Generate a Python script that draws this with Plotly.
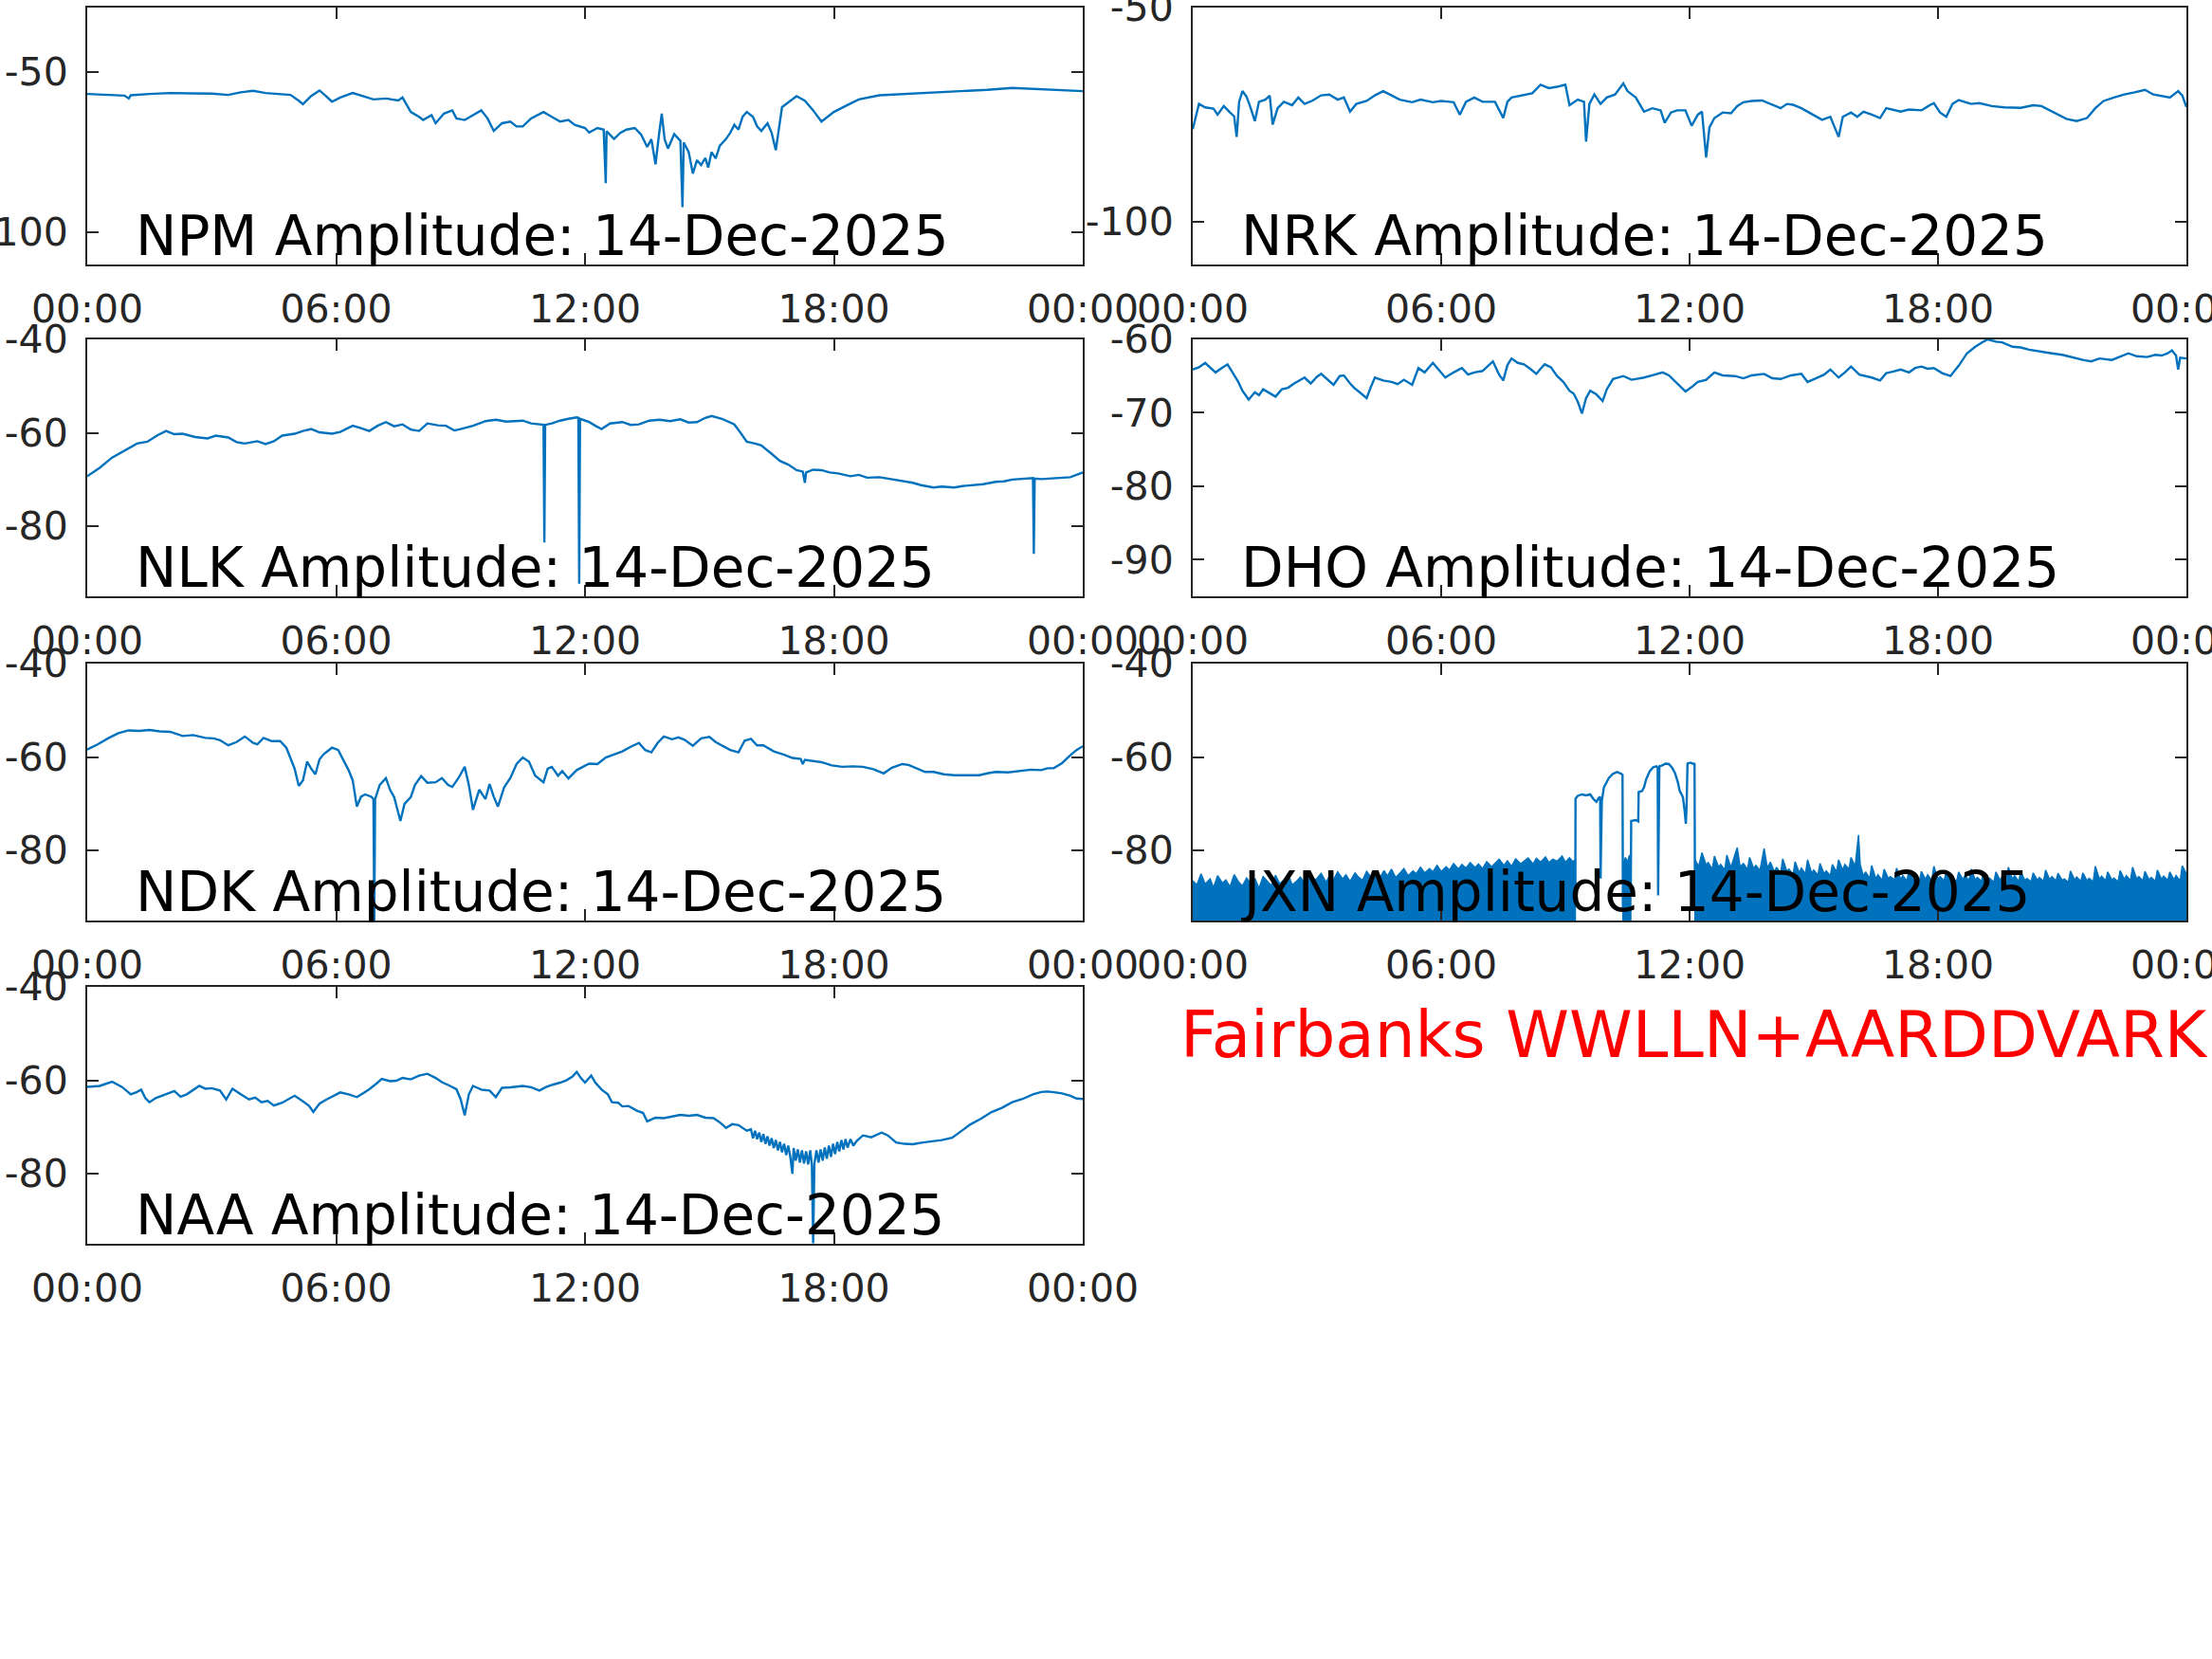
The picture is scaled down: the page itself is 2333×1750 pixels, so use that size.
import plotly.graph_objects as go
from plotly.subplots import make_subplots

# ---- data (hours since 00:00 UT, amplitude in dB) ----
npm_hours = [0.0, 0.5, 0.9, 1.0, 1.05, 1.5, 2.0, 2.5, 3.0, 3.4, 3.7, 4.0, 4.3, 4.6, 4.9, 5.1, 5.2, 5.4, 5.6, 5.75,
             5.9, 6.1, 6.4, 6.7, 6.9, 7.2, 7.5, 7.6, 7.8, 8.0, 8.1, 8.3, 8.4, 8.6, 8.8, 8.9, 9.1, 9.3, 9.5, 9.65,
             9.8, 10.0, 10.2, 10.35, 10.5, 10.7, 11.0, 11.2, 11.4, 11.6, 11.75, 12.0, 12.1, 12.3, 12.45, 12.5, 12.52,
             12.7, 12.85, 13.0, 13.2, 13.35, 13.5, 13.6, 13.7, 13.78, 13.85, 13.92, 14.0, 14.15, 14.3, 14.35, 14.38,
             14.5, 14.6, 14.7, 14.8, 14.9, 14.97, 15.05, 15.15, 15.25, 15.4, 15.5, 15.6, 15.7, 15.8, 15.9, 16.05,
             16.15, 16.25, 16.4, 16.5, 16.6, 16.75, 16.9, 17.1, 17.3, 17.5, 17.7, 17.85, 18.0, 18.3, 18.6, 19.1,
             19.6, 20.1, 20.6, 21.1, 21.7, 22.3, 22.8, 23.2, 23.6, 24.0]
npm_db = [-56.9, -57.2, -57.4, -58.3, -57.3, -56.9, -56.6, -56.7, -56.8, -57.2, -56.4, -55.9, -56.6, -56.9, -57.2,
          -59.0, -60.1, -57.5, -55.8, -57.5, -59.3, -58.0, -56.6, -57.8, -58.6, -58.3, -58.9, -58.0, -62.5, -64.0,
          -65.0, -63.5, -66.0, -63.0, -62.0, -64.5, -65.0, -63.5, -62.0, -64.5, -68.4, -66.0, -65.5, -67.0, -67.0,
          -64.5, -62.5, -64.0, -65.5, -65.0, -66.5, -67.5, -68.9, -67.5, -68.0, -84.7, -68.5, -70.9, -69.0, -68.0,
          -67.5, -69.5, -73.4, -71.0, -78.8, -70.0, -63.0, -71.0, -73.9, -69.4, -71.5, -92.1, -72.0, -75.0, -81.7,
          -77.5, -79.0, -76.8, -79.8, -75.0, -77.0, -73.0, -70.9, -69.0, -66.5, -68.0, -64.0, -62.5, -64.0, -67.0,
          -68.4, -66.0, -69.0, -74.4, -61.0, -59.5, -57.6, -59.0, -62.0, -65.5, -64.0, -62.5, -60.5, -58.6, -57.3,
          -57.0, -56.6, -56.3, -55.9, -55.6, -55.0, -55.3, -55.6, -55.7, -56.0]

nrk_hours = [0.0, 0.1, 0.15, 0.3, 0.5, 0.6, 0.75, 0.9, 1.0, 1.06, 1.12, 1.2, 1.3, 1.4, 1.5, 1.6, 1.75, 1.86, 1.93,
             2.05, 2.2, 2.4, 2.55, 2.7, 2.9, 3.1, 3.3, 3.5, 3.65, 3.8, 3.95, 4.2, 4.4, 4.6, 4.8, 5.0, 5.3, 5.5, 5.8,
             6.0, 6.3, 6.45, 6.6, 6.8, 7.0, 7.3, 7.5, 7.6, 7.7, 8.0, 8.2, 8.4, 8.6, 8.8, 9.0, 9.1, 9.3, 9.45, 9.5,
             9.58, 9.7, 9.85, 10.0, 10.2, 10.4, 10.5, 10.7, 10.9, 11.1, 11.3, 11.4, 11.55, 11.7, 11.9, 12.05, 12.2,
             12.3, 12.4, 12.48, 12.6, 12.8, 13.0, 13.15, 13.3, 13.5, 13.75, 14.0, 14.2, 14.35, 14.5, 14.7, 14.85,
             15.0, 15.2, 15.4, 15.6, 15.7, 15.9, 16.05, 16.2, 16.4, 16.6, 16.75, 16.9, 17.1, 17.3, 17.6, 17.8, 17.9,
             18.05, 18.2, 18.35, 18.5, 18.8, 19.0, 19.3, 19.6, 20.0, 20.3, 20.5, 20.7, 20.9, 21.1, 21.35, 21.6, 21.8,
             22.0, 22.25, 22.5, 22.75, 23.0, 23.2, 23.4, 23.6, 23.8, 23.9, 24.0]
nrk_db = [-78.4, -74.0, -72.5, -73.3, -73.6, -75.0, -73.0, -74.5, -75.4, -80.2, -72.0, -69.5, -70.8, -73.5, -76.5,
          -72.0, -71.5, -70.6, -77.3, -73.5, -72.0, -72.8, -71.0, -72.5, -71.7, -70.5, -70.3, -71.5, -71.0, -74.3,
          -72.5, -71.8, -70.5, -69.5, -70.5, -71.5, -72.1, -71.5, -72.1, -71.8, -72.1, -75.0, -72.0, -71.0, -72.0,
          -72.0, -75.8, -72.0, -71.0, -70.5, -70.0, -68.0, -68.8, -68.5, -68.0, -72.8, -71.5, -72.0, -81.3, -72.5,
          -70.3, -72.5, -71.0, -70.3, -67.7, -69.5, -71.0, -74.3, -73.5, -74.0, -76.9, -74.5, -74.0, -74.0, -77.6,
          -75.0, -74.3, -85.0, -78.0, -75.8, -74.5, -74.7, -73.0, -72.1, -71.8, -71.7, -72.8, -73.5, -72.5, -72.7,
          -73.5, -74.3, -75.0, -76.2, -75.5, -80.2, -75.5, -74.5, -75.5, -74.3, -75.0, -75.8, -73.5, -73.8, -74.3,
          -73.8, -74.0, -72.8, -72.3, -74.5, -75.5, -72.5, -71.6, -72.5, -72.3, -73.0, -73.3, -73.4, -72.8, -73.0,
          -74.0, -75.0, -76.0, -76.5, -75.8, -73.5, -71.8, -71.0, -70.3, -69.8, -69.2, -70.3, -70.6, -71.0, -69.5,
          -70.5, -73.2]

nlk_hours = [0.0, 0.3, 0.6, 0.9, 1.2, 1.45, 1.7, 1.9, 2.1, 2.3, 2.6, 2.9, 3.1, 3.4, 3.6, 3.8, 4.1, 4.3, 4.5, 4.7,
             5.0, 5.2, 5.4, 5.6, 5.9, 6.1, 6.4, 6.6, 6.8, 7.0, 7.2, 7.4, 7.6, 7.8, 8.0, 8.2, 8.45, 8.65, 8.85, 9.0,
             9.3, 9.6, 9.85, 10.1, 10.5, 10.7, 10.9, 11.0, 11.02, 11.04, 11.2, 11.4, 11.6, 11.8, 11.84, 11.86, 11.88,
             12.1, 12.25, 12.4, 12.6, 12.9, 13.1, 13.3, 13.55, 13.8, 14.05, 14.3, 14.5, 14.7, 14.9, 15.05, 15.3,
             15.6, 15.75, 15.9, 16.1, 16.25, 16.5, 16.7, 16.9, 17.1, 17.25, 17.3, 17.33, 17.5, 17.7, 17.9, 18.1,
             18.4, 18.6, 18.8, 19.1, 19.4, 19.7, 19.9, 20.1, 20.4, 20.6, 20.9, 21.1, 21.35, 21.6, 21.9, 22.1, 22.3,
             22.6, 22.8, 22.82, 22.84, 23.0, 23.2, 23.45, 23.7, 23.85, 24.0]
nlk_db = [-69.3, -67.5, -65.3, -63.8, -62.3, -61.9, -60.5, -59.6, -60.3, -60.2, -60.9, -61.2, -60.6, -61.0, -62.0,
          -62.3, -61.8, -62.4, -61.8, -60.6, -60.2, -59.6, -59.2, -59.9, -60.2, -59.8, -58.5, -59.0, -59.6, -58.5,
          -57.7, -58.6, -58.2, -59.3, -59.6, -58.0, -58.4, -58.5, -59.5, -59.2, -58.5, -57.5, -57.2, -57.6, -57.4,
          -58.0, -58.1, -58.3, -83.5, -58.3, -58.0, -57.4, -57.0, -56.7, -56.8, -92.3, -57.0, -57.7, -58.5, -59.2,
          -58.0, -57.7, -58.3, -58.2, -57.4, -57.2, -57.5, -57.1, -57.8, -57.7, -56.8, -56.4, -57.0, -58.2, -60.0,
          -61.9, -62.3, -62.7, -64.5, -66.0, -66.8, -68.0, -68.3, -70.7, -68.5, -67.9, -68.0, -68.5, -68.7, -69.3,
          -69.0, -69.6, -69.5, -70.0, -70.4, -70.7, -71.2, -71.7, -71.5, -71.7, -71.4, -71.2, -71.0, -70.5, -70.4,
          -70.0, -69.8, -69.7, -85.9, -69.8, -69.9, -69.8, -69.6, -69.5, -69.0, -68.5]

dho_hours = [0.0, 0.15, 0.3, 0.45, 0.55, 0.7, 0.84, 0.95, 1.1, 1.2, 1.35, 1.5, 1.6, 1.7, 1.85, 2.0, 2.15, 2.3, 2.45,
             2.6, 2.7, 2.85, 3.0, 3.1, 3.25, 3.4, 3.55, 3.65, 3.8, 3.9, 4.05, 4.2, 4.3, 4.4, 4.6, 4.8, 4.95, 5.1,
             5.3, 5.45, 5.6, 5.8, 5.95, 6.1, 6.3, 6.5, 6.65, 6.8, 7.0, 7.15, 7.25, 7.4, 7.5, 7.6, 7.7, 7.85, 8.0,
             8.15, 8.3, 8.4, 8.5, 8.65, 8.8, 8.95, 9.1, 9.2, 9.3, 9.4, 9.5, 9.6, 9.75, 9.9, 10.0, 10.15, 10.3, 10.4,
             10.6, 10.8, 10.9, 11.1, 11.35, 11.5, 11.7, 11.9, 12.05, 12.2, 12.4, 12.6, 12.8, 13.0, 13.1, 13.3, 13.5,
             13.8, 14.0, 14.2, 14.45, 14.7, 14.85, 15.05, 15.25, 15.4, 15.6, 15.75, 15.9, 16.1, 16.25, 16.4, 16.6,
             16.75, 16.9, 17.1, 17.3, 17.45, 17.6, 17.75, 17.9, 18.1, 18.3, 18.5, 18.7, 18.9, 19.1, 19.2, 19.4,
             19.55, 19.8, 20.0, 20.2, 20.5, 20.75, 21.0, 21.2, 21.5, 21.7, 21.9, 22.2, 22.4, 22.6, 22.8, 23.05,
             23.25, 23.4, 23.55, 23.65, 23.75, 23.8, 23.85, 24.0]
dho_db = [-64.1, -63.8, -63.2, -64.0, -64.5, -63.9, -63.4, -64.4, -65.8, -67.0, -68.2, -67.2, -67.6, -66.8, -67.3,
          -67.8, -66.8, -66.6, -66.0, -65.5, -65.2, -66.0, -65.1, -64.7, -65.5, -66.2, -65.0, -64.9, -66.0, -66.6,
          -67.3, -68.0, -66.5, -65.2, -65.6, -65.8, -66.1, -65.5, -66.2, -63.9, -64.5, -63.2, -64.2, -65.2, -64.5,
          -63.9, -64.8, -64.5, -64.3, -63.5, -63.0, -64.8, -65.6, -63.5, -62.6, -63.2, -63.4, -64.0, -64.7, -64.0,
          -63.4, -63.8, -65.0, -65.8, -67.0, -67.4, -68.5, -70.1, -68.0, -67.0, -67.5, -68.4, -66.8, -65.4, -65.2,
          -65.0, -65.5, -65.3, -65.2, -64.9, -64.5, -64.9, -66.0, -67.1, -66.5, -65.8, -65.5, -64.5, -64.9, -65.0,
          -65.0, -65.3, -64.9, -64.7, -65.3, -65.4, -64.9, -64.7, -65.8, -65.3, -64.8, -64.1, -65.2, -64.5, -63.7,
          -64.8, -65.0, -65.2, -65.6, -64.6, -64.4, -64.1, -64.5, -63.9, -63.7, -64.0, -63.9, -64.6, -65.0, -63.6,
          -61.9, -61.0, -60.3, -60.0, -60.3, -60.4, -61.0, -61.1, -61.4, -61.7, -61.9, -62.1, -62.4, -62.8, -63.0,
          -62.6, -62.8, -62.4, -61.9, -62.3, -62.4, -62.1, -62.2, -61.9, -61.5, -62.2, -64.1, -62.5, -62.6]

ndk_hours = [0.0, 0.25, 0.5, 0.75, 1.0, 1.25, 1.5, 1.75, 2.0, 2.3, 2.55, 2.85, 3.05, 3.2, 3.4, 3.6, 3.8, 4.0, 4.1,
             4.25, 4.45, 4.65, 4.8, 4.9, 5.0, 5.1, 5.2, 5.3, 5.4, 5.5, 5.6, 5.7, 5.9, 6.05, 6.1, 6.2, 6.3, 6.4, 6.5,
             6.6, 6.7, 6.85, 6.9, 6.92, 6.94, 7.05, 7.2, 7.3, 7.4, 7.55, 7.65, 7.8, 7.9, 8.05, 8.2, 8.4, 8.55, 8.7,
             8.8, 8.95, 9.1, 9.2, 9.3, 9.45, 9.6, 9.7, 9.8, 9.9, 10.05, 10.2, 10.35, 10.5, 10.65, 10.8, 11.0, 11.1,
             11.2, 11.35, 11.45, 11.6, 11.8, 12.1, 12.3, 12.5, 12.7, 12.9, 13.1, 13.3, 13.45, 13.6, 13.75, 13.9,
             14.1, 14.25, 14.4, 14.6, 14.8, 15.0, 15.15, 15.3, 15.5, 15.7, 15.85, 16.0, 16.15, 16.3, 16.55, 16.8,
             17.0, 17.2, 17.25, 17.3, 17.7, 17.95, 18.2, 18.45, 18.7, 18.95, 19.2, 19.4, 19.65, 19.8, 20.0, 20.2,
             20.4, 20.65, 20.9, 21.2, 21.5, 21.7, 21.9, 22.2, 22.5, 22.75, 23.0, 23.15, 23.3, 23.5, 23.7, 23.85, 24.0]
ndk_db = [-58.4, -57.3, -56.0, -54.9, -54.3, -54.4, -54.2, -54.5, -54.6, -55.5, -55.3, -55.9, -56.0, -56.4, -57.5,
          -56.8, -55.6, -57.0, -57.3, -55.9, -56.6, -56.6, -58.0, -60.4, -62.5, -66.2, -65.0, -61.0, -62.5, -63.7,
          -60.5, -59.4, -58.0, -58.5, -59.4, -61.0, -62.8, -65.0, -70.6, -68.5, -68.0, -68.5, -69.0, -96.0, -69.0,
          -66.0, -64.5, -67.0, -68.6, -73.7, -70.0, -68.6, -66.0, -64.1, -65.5, -65.4, -64.5, -66.0, -66.4, -64.5,
          -62.1, -66.0, -71.3, -67.0, -69.0, -65.8, -68.5, -70.6, -66.5, -64.5, -61.5, -60.1, -61.0, -64.0, -65.4,
          -62.5, -62.1, -64.0, -63.0, -64.6, -62.8, -61.4, -61.5, -60.1, -59.5, -58.8, -57.8, -57.0, -58.5, -59.0,
          -57.0, -55.6, -56.2, -55.8, -56.3, -57.6, -56.0, -55.7, -56.8, -57.5, -58.5, -59.0, -56.5, -56.1, -57.5,
          -57.5, -58.8, -59.5, -60.2, -60.4, -61.5, -60.6, -61.1, -61.8, -62.1, -62.0, -62.1, -62.6, -63.5, -62.3,
          -61.5, -61.7, -62.5, -63.2, -63.2, -63.7, -63.9, -63.9, -63.9, -63.5, -63.2, -63.3, -63.0, -62.7, -62.8,
          -62.4, -62.4, -61.3, -59.6, -58.5, -57.7]

# JXN: noise floor segments (upper edge of the noise band) and the signal-on trace
jxn_floor = -96.0
jxn_noise_a_hours = [0.0, 0.1, 0.2, 0.3, 0.42, 0.5, 0.6, 0.72, 0.8, 0.9, 1.0, 1.12, 1.2, 1.3, 1.42, 1.5, 1.6, 1.7,
                     1.82, 1.9, 2.0, 2.1, 2.22, 2.3, 2.4, 2.52, 2.6, 2.7, 2.8, 2.92, 3.0, 3.1, 3.22, 3.3, 3.4, 3.5,
                     3.62, 3.7, 3.8, 3.92, 4.0, 4.1, 4.2, 4.32, 4.4, 4.5, 4.62, 4.7, 4.8, 4.9, 5.02, 5.1, 5.2, 5.32,
                     5.4, 5.5, 5.6, 5.72, 5.8, 5.9, 6.0, 6.12, 6.2, 6.3, 6.42, 6.5, 6.6, 6.7, 6.82, 6.9, 7.0, 7.1,
                     7.22, 7.3, 7.4, 7.52, 7.6, 7.7, 7.8, 7.92, 8.0, 8.1, 8.22, 8.3, 8.4, 8.52, 8.6, 8.7, 8.8, 8.92,
                     9.0, 9.1, 9.18, 9.24]
jxn_noise_a_db = [-86.5, -87.4, -85.0, -87.2, -86.1, -88.0, -85.4, -87.0, -86.3, -87.8, -85.2, -86.9, -87.6, -85.9,
                  -87.3, -86.0, -88.1, -85.6, -86.8, -87.5, -85.3, -87.1, -86.2, -85.0, -87.4, -86.5, -85.7, -87.0,
                  -85.2, -86.6, -86.0, -84.9, -86.8, -85.5, -86.3, -84.6, -86.1, -85.2, -86.6, -84.8, -85.7, -86.4,
                  -84.5, -85.9, -84.9, -86.2, -84.3, -85.5, -84.0, -85.8, -84.7, -83.9, -85.4, -84.4, -85.0, -83.6,
                  -84.8, -83.9, -84.6, -83.2, -84.5, -83.5, -84.2, -82.8, -84.0, -83.0, -83.8, -82.6, -83.7, -82.9,
                  -83.9, -82.4, -83.5, -82.8, -81.9, -83.2, -82.2, -83.4, -81.8, -82.9, -82.4, -81.6, -82.9, -81.7,
                  -82.5, -81.4, -82.6, -81.9, -82.3, -81.2, -82.5, -81.6, -82.4, -82.0]
jxn_noise_b_hours = [10.39, 10.45, 10.5, 10.55, 10.58]
jxn_noise_b_db = [-83.0, -81.5, -82.5, -81.0, -82.0]
jxn_noise_c_hours = [12.13, 12.22, 12.3, 12.4, 12.45, 12.55, 12.6, 12.7, 12.75, 12.85, 12.9, 13.0, 13.05, 13.15,
                     13.22, 13.3, 13.4, 13.45, 13.55, 13.6, 13.7, 13.8, 13.88, 13.95, 14.05, 14.1, 14.2, 14.25,
                     14.35, 14.4, 14.5, 14.55, 14.65, 14.7, 14.8, 14.85, 14.95, 15.0, 15.1, 15.15, 15.25, 15.3,
                     15.4, 15.45, 15.55, 15.6, 15.7, 15.75, 15.85, 15.9, 16.0, 16.08, 16.12, 16.2, 16.25, 16.35,
                     16.4, 16.5, 16.55, 16.65, 16.7, 16.8, 16.85, 16.95, 17.0, 17.1, 17.15, 17.25, 17.3, 17.4, 17.45,
                     17.55, 17.6, 17.7, 17.75, 17.85, 17.9, 18.0, 18.05, 18.15, 18.2, 18.3, 18.35, 18.45, 18.5,
                     18.6, 18.65, 18.75, 18.8, 18.9, 18.95, 19.05, 19.1, 19.2, 19.25, 19.35, 19.4, 19.5, 19.55,
                     19.65, 19.7, 19.8, 19.85, 19.95, 20.0, 20.1, 20.15, 20.25, 20.3, 20.4, 20.45, 20.55, 20.6,
                     20.7, 20.75, 20.85, 20.9, 21.0, 21.05, 21.15, 21.2, 21.3, 21.35, 21.45, 21.5, 21.6, 21.65,
                     21.75, 21.8, 21.9, 21.95, 22.05, 22.1, 22.2, 22.25, 22.35, 22.4, 22.5, 22.55, 22.65, 22.7,
                     22.8, 22.85, 22.95, 23.0, 23.1, 23.15, 23.25, 23.3, 23.4, 23.45, 23.55, 23.6, 23.7, 23.75,
                     23.85, 23.9, 24.0]
jxn_noise_c_db = [-82.0, -83.4, -80.5, -83.1, -82.6, -84.0, -81.2, -83.6, -83.0, -84.2, -81.0, -83.7, -82.2, -79.4,
                  -83.5, -82.8, -84.1, -81.5, -83.9, -83.2, -84.3, -79.6, -83.8, -82.5, -84.6, -83.6, -84.9, -81.8,
                  -84.5, -84.0, -85.2, -82.4, -84.8, -83.8, -85.0, -82.0, -84.9, -84.2, -85.3, -82.8, -85.0, -84.4,
                  -85.4, -83.0, -84.6, -82.0, -84.2, -83.0, -84.0, -81.5, -83.4, -76.7, -83.0, -85.5, -84.6, -86.0,
                  -83.2, -86.1, -85.2, -86.4, -84.0, -86.0, -85.6, -86.3, -83.8, -86.2, -85.4, -86.5, -84.2, -86.3,
                  -85.8, -86.6, -84.5, -86.2, -85.2, -86.4, -83.4, -86.1, -85.6, -86.5, -84.4, -86.3, -85.9, -86.6,
                  -84.6, -86.2, -85.4, -86.4, -84.0, -86.3, -85.8, -86.6, -84.8, -86.5, -86.0, -86.8, -84.6, -86.4,
                  -85.6, -86.5, -83.6, -86.2, -85.4, -86.6, -84.6, -86.4, -86.0, -86.7, -84.8, -86.4, -85.8, -86.6,
                  -84.2, -86.3, -85.6, -86.5, -84.9, -86.4, -86.1, -86.8, -84.4, -86.3, -85.7, -86.6, -84.8, -86.5,
                  -86.0, -86.7, -83.4, -86.2, -85.5, -86.5, -84.6, -86.3, -85.9, -86.7, -84.3, -86.2, -85.4, -86.4,
                  -83.6, -86.1, -85.6, -86.5, -84.5, -86.3, -85.8, -86.6, -84.2, -86.2, -85.5, -86.4, -84.6, -86.3,
                  -85.4, -86.5, -83.3, -85.0]
jxn_on_hours = [9.24, 9.245, 9.3, 9.4, 9.5, 9.6, 9.68, 9.75, 9.8, 9.84, 9.85, 9.88, 9.93, 9.97, 10.05, 10.15, 10.25,
                10.35, 10.38, 10.39, None, 10.58, 10.59, 10.7, 10.76, 10.77, 10.85, 10.9, 10.95, 11.04, 11.12, 11.2,
                11.23, 11.24, 11.27, 11.34, 11.42, 11.5, 11.58, 11.65, 11.72, 11.76, 11.84, 11.88, 11.91, 11.93,
                11.95, 12.02, 12.1, 12.12, 12.13]
jxn_on_db = [-92.0, -68.9, -68.3, -68.0, -68.2, -68.0, -69.0, -69.6, -68.8, -68.5, -86.0, -69.5, -66.5, -65.8, -64.5,
             -63.6, -63.2, -63.6, -63.8, -92.5, None, -88.0, -73.7, -73.5, -73.8, -67.5, -67.3, -66.5, -64.8, -63.0,
             -62.2, -62.0, -62.3, -89.6, -62.0, -61.8, -61.4, -61.5, -62.3, -63.5, -65.5, -67.2, -68.6, -71.5, -74.3,
             -70.0, -61.4, -61.2, -61.5, -61.3, -90.0]

naa_hours = [0.0, 0.3, 0.6, 0.85, 1.05, 1.2, 1.3, 1.4, 1.5, 1.65, 1.8, 2.1, 2.25, 2.4, 2.7, 2.85, 3.0, 3.2, 3.35, 3.5,
             3.7, 3.9, 4.05, 4.2, 4.35, 4.5, 4.7, 5.0, 5.2, 5.35, 5.45, 5.6, 5.75, 5.9, 6.1, 6.3, 6.5, 6.65, 6.8,
             7.0, 7.1, 7.3, 7.45, 7.6, 7.8, 8.0, 8.2, 8.4, 8.55, 8.7, 8.9, 9.0, 9.1, 9.2, 9.3, 9.5, 9.7, 9.85, 10.0,
             10.2, 10.5, 10.7, 10.9, 11.05, 11.2, 11.4, 11.55, 11.7, 11.8, 11.9, 12.0, 12.15, 12.25, 12.4, 12.55,
             12.65, 12.8, 12.9, 13.05, 13.25, 13.4, 13.5, 13.7, 13.9, 14.1, 14.3, 14.5, 14.7, 14.9, 15.1, 15.25,
             15.4, 15.55, 15.7, 15.9,
             16.0, 16.05, 16.1, 16.15, 16.2, 16.25, 16.3, 16.35, 16.4, 16.45, 16.5, 16.55, 16.6, 16.65, 16.7, 16.75,
             16.8, 16.85, 16.9, 16.95, 17.0, 17.03, 17.08, 17.13, 17.18, 17.23, 17.28, 17.33, 17.38, 17.43, 17.47,
             17.5, 17.53, 17.58, 17.63, 17.68, 17.73, 17.78, 17.83, 17.88, 17.93, 17.98, 18.03, 18.08, 18.13, 18.18,
             18.23, 18.28, 18.33, 18.4, 18.47, 18.55,
             18.7, 18.9, 19.15, 19.3, 19.5, 19.7, 19.9, 20.15, 20.4, 20.6, 20.85, 21.05, 21.3, 21.55, 21.8, 22.05,
             22.3, 22.55, 22.8, 23.0, 23.15, 23.35, 23.5, 23.7, 23.85, 24.0]
naa_db = [-61.4, -61.2, -60.3, -61.5, -63.0, -62.5, -62.0, -63.8, -64.7, -63.8, -63.3, -62.3, -63.5, -63.0, -61.2,
          -61.8, -61.7, -62.2, -64.1, -61.8, -63.0, -64.1, -63.7, -64.7, -64.4, -65.4, -64.8, -63.3, -64.5, -65.5,
          -66.8, -65.0, -64.2, -63.5, -62.6, -63.0, -63.6, -62.8, -61.9, -60.5, -59.7, -60.2, -60.1, -59.5, -59.8,
          -59.0, -58.6, -59.5, -60.4, -61.0, -61.9, -64.0, -67.5, -63.0, -61.2, -62.0, -62.2, -63.6, -61.6, -61.5,
          -61.2, -61.5, -62.2, -61.5, -61.0, -60.5, -60.0, -59.2, -58.2, -59.5, -60.5, -59.0, -60.5, -62.0, -63.0,
          -64.7, -64.8, -65.6, -65.5, -66.5, -67.0, -68.8, -68.0, -68.1, -67.8, -67.4, -67.6, -67.4, -68.0, -68.1,
          -69.0, -70.2, -69.4, -69.6, -70.8,
          -70.5, -72.4, -70.8, -72.6, -71.2, -73.2, -71.5, -73.6, -72.0, -74.0, -72.4, -74.5, -72.8, -75.0, -73.2,
          -75.4, -73.6, -76.0, -74.0, -76.4, -80.0, -74.5, -77.2, -74.8, -77.6, -75.0, -77.8, -75.2, -78.0, -75.0,
          -78.2, -94.9, -77.8, -75.0, -77.6, -74.8, -77.2, -74.4, -76.8, -74.0, -76.4, -73.6, -75.8, -73.2, -75.2,
          -72.8, -74.8, -72.6, -74.4, -72.6, -74.0, -73.0,
          -71.8, -72.2, -71.2, -71.8, -73.3, -73.6, -73.7, -73.3, -73.0, -72.8, -72.3, -71.0, -69.4, -68.2, -66.8,
          -65.9, -64.7, -64.0, -63.0, -62.5, -62.4, -62.6, -62.8, -63.3, -63.9, -64.0]

stations = ["NPM", "NRK", "NLK", "DHO", "NDK", "JXN", "NAA"]
date_label = "14-Dec-2025"
hour_ticks = [0, 6, 12, 18, 24]
hour_labels = ["00:00", "06:00", "12:00", "18:00", "00:00"]
y_ranges = {"NPM": [-110, -30], "NRK": [-110, -50], "NLK": [-95, -40], "DHO": [-95, -60],
            "NDK": [-95, -40], "JXN": [-95, -40], "NAA": [-95, -40]}
y_ticks = {"NPM": [-100, -50], "NRK": [-100, -50], "NLK": [-80, -60, -40], "DHO": [-90, -80, -70, -60],
           "NDK": [-80, -60, -40], "JXN": [-80, -60, -40], "NAA": [-80, -60, -40]}
series = {"NPM": (npm_hours, npm_db), "NRK": (nrk_hours, nrk_db), "NLK": (nlk_hours, nlk_db),
          "DHO": (dho_hours, dho_db), "NDK": (ndk_hours, ndk_db), "NAA": (naa_hours, naa_db)}

for name, (h, v) in series.items():
    assert len(h) == len(v), (name, len(h), len(v))

BLUE = "#0072BD"
AXC = "#262626"
FONT = "DejaVu Sans"
W, H = 2333, 1750

# axes boxes in pixels (left, right, top, bottom)
cols_px = [(92, 1142), (1258, 2306)]
rows_px = [(8, 279), (358, 629), (700, 971), (1041, 1312)]
cells = {"NPM": (1, 1), "NRK": (1, 2), "NLK": (2, 1), "DHO": (2, 2), "NDK": (3, 1), "JXN": (3, 2), "NAA": (4, 1)}

fig = make_subplots(rows=4, cols=2, specs=[[{}, {}], [{}, {}], [{}, {}], [{}, None]])

for name in stations:
    r, c = cells[name]
    if name == "JXN":
        # noise band as filled polygons
        bx, by = [], []
        for hs, vs in [(jxn_noise_a_hours, jxn_noise_a_db), (jxn_noise_b_hours, jxn_noise_b_db),
                       (jxn_noise_c_hours, jxn_noise_c_db)]:
            assert len(hs) == len(vs), (len(hs), len(vs))
            bx += hs + hs[::-1] + [hs[0], None]
            by += vs + [jxn_floor] * len(hs) + [vs[0], None]
        fig.add_trace(go.Scatter(x=bx, y=by, mode="lines", fill="toself", fillcolor=BLUE,
                                 line=dict(color=BLUE, width=1.5), showlegend=False), row=r, col=c)
        fig.add_trace(go.Scatter(x=jxn_on_hours, y=jxn_on_db, mode="lines",
                                 line=dict(color=BLUE, width=2.4), showlegend=False), row=r, col=c)
    else:
        h, v = series[name]
        fig.add_trace(go.Scatter(x=h, y=v, mode="lines", line=dict(color=BLUE, width=2.4),
                                 showlegend=False), row=r, col=c)

    x0, x1 = cols_px[c - 1]
    y0, y1 = rows_px[r - 1]
    fig.update_xaxes(domain=[x0 / W, x1 / W], range=[0, 24], tickvals=hour_ticks, ticktext=hour_labels,
                     row=r, col=c)
    fig.update_yaxes(domain=[1 - y1 / H, 1 - y0 / H], range=y_ranges[name], tickvals=y_ticks[name],
                     ticktext=[str(t) for t in y_ticks[name]], row=r, col=c)
    fig.add_annotation(text=f"{name} Amplitude: {date_label}", xref="x domain", yref="y domain",
                       x=0.047, y=0.11, xanchor="left", yanchor="middle", showarrow=False,
                       font=dict(family=FONT, size=58, color="black"), row=r, col=c)

fig.update_xaxes(showgrid=False, zeroline=False, showline=True, linecolor=AXC, linewidth=2, mirror="ticks",
                 ticks="inside", ticklen=12, tickwidth=2, tickcolor=AXC, ticklabelstandoff=10,
                 ticklabeloverflow="allow", automargin=False, tickfont=dict(family=FONT, size=41, color=AXC))
fig.update_yaxes(showgrid=False, zeroline=False, showline=True, linecolor=AXC, linewidth=2, mirror="ticks",
                 ticks="inside", ticklen=12, tickwidth=2, tickcolor=AXC, ticklabelstandoff=10,
                 ticklabeloverflow="allow", automargin=False, tickfont=dict(family=FONT, size=41, color=AXC))

fig.add_annotation(text="Fairbanks WWLLN+AARDDVARK", xref="paper", yref="paper", x=1243 / W, y=1 - 1091 / H,
                   xanchor="left", yanchor="middle", showarrow=False,
                   font=dict(family=FONT, size=67.5, color="#FF0000"))

fig.update_layout(width=W, height=H, margin=dict(l=0, r=0, t=0, b=0, autoexpand=False),
                  paper_bgcolor="white", plot_bgcolor="white", showlegend=False)

# the page body has a default 8px margin; remove it so the figure sits at the window origin
fig.write_html("out.html", config={"displayModeBar": False},
               post_script="document.body.style.margin='0';")
